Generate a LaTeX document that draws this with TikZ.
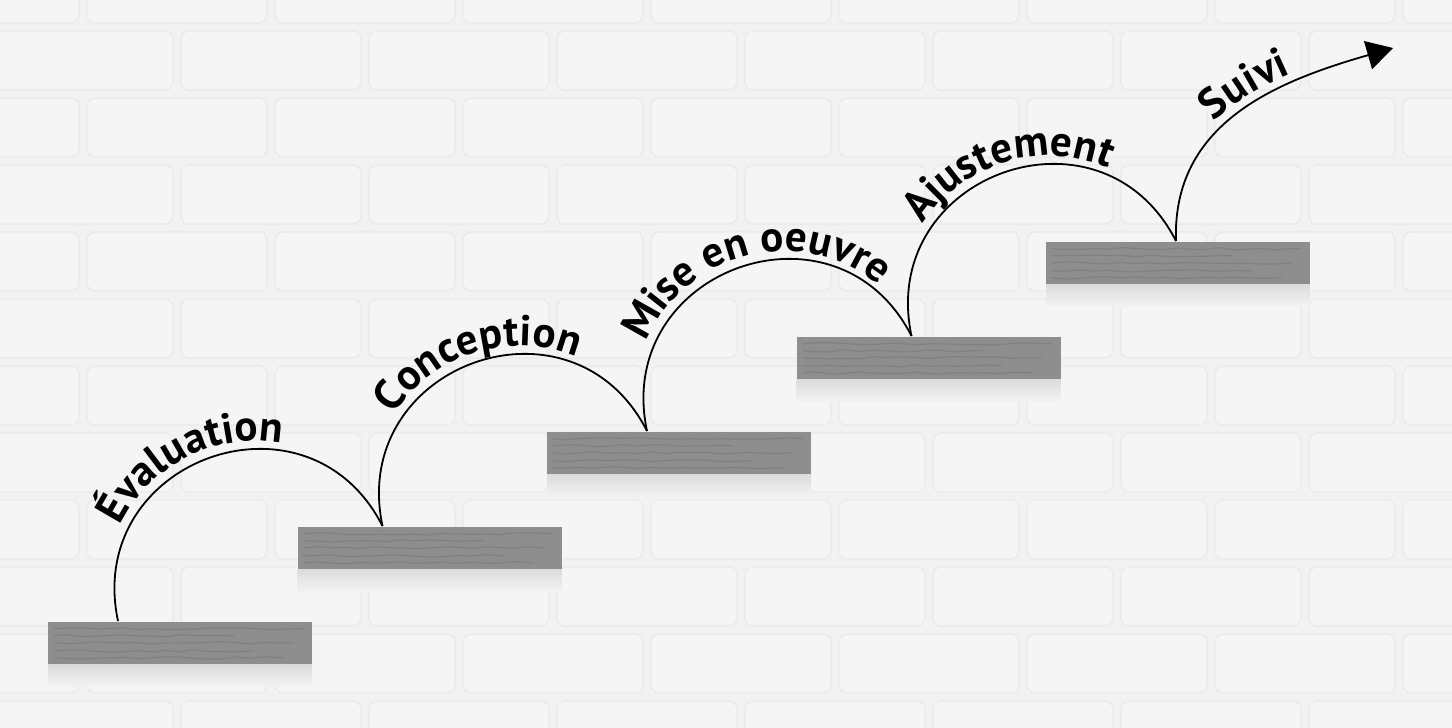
\documentclass[tikz,border=0pt]{standalone}
\usepackage{fontspec}
\setmainfont{PT Sans}
\usepackage{tikz}
\usetikzlibrary{arrows.meta, decorations.text, decorations.pathmorphing, calc}
\definecolor{muro}{HTML}{F2F2F2}
\definecolor{mattone}{HTML}{F5F5F5}
\definecolor{giunto}{HTML}{EAEAEA}
\definecolor{legno}{HTML}{8E8E8E}
\definecolor{venatura}{HTML}{777777}
\newcommand{\labelfont}{\bfseries\fontsize{43}{47}\selectfont}

\begin{document}
\begin{tikzpicture}[x = 1pt, y = 1pt,
    shelf/.style = {rectangle, fill = legno, minimum width = 264pt, minimum height = 42pt, inner sep = 0pt},
    grain/.style = {venatura, line width = 1.2pt, opacity = 0.55, decorate, decoration = {random steps, segment length = 14pt, amplitude = 1.2pt}},
    stepline/.style = {black, line width = 1.8pt},
    steplabel/.style = {decorate, decoration = {text along path, text = {|\labelfont|#1}, text align = left}}]
    % Parameters
    \pgfmathsetmacro{\brickw}{188}
    \pgfmathsetmacro{\brickh}{67}
    \pgfmathsetmacro{\rad}{150}
    \useasboundingbox (0,0) rectangle (1452,-728);
    % Wall
    \fill[muro] (0,0) rectangle (1452,-728);
    \begin{scope}
        \clip (0,0) rectangle (1452,-728);
        \foreach \r in {0,...,11}{
            \pgfmathsetmacro{\off}{-105+94*mod(\r,2)}
            \foreach \k in {0,...,8}{
                \filldraw[fill = mattone, draw = giunto, line width = 1.3pt, rounded corners = 8pt]
                    ({\off+\brickw*\k+4},{40-\brickh*\r-4}) rectangle ({\off+\brickw*(\k+1)-4},{40-\brickh*(\r+1)+4});
            }
        }
    \end{scope}
    % Shelves
    \foreach \i in {1,...,5}{
        \shade[top color = black!14, bottom color = muro]
            ({48+249.5*(\i-1)},{-664+95*(\i-1)}) rectangle ++(264,-22);
        \node[shelf] (s\i) at ({180+249.5*(\i-1)},{-643+95*(\i-1)}) {};
        \foreach \g/\l in {7/250, 14/180, 21/240, 29/200, 36/230}{
            \draw[grain] ($(s\i.north west)+(6,-\g)$) -- ++(\l,0);
        }
        \coordinate (p\i) at ({118+264.5*(\i-1)},{-621+95*(\i-1)});
    }
    \coordinate (fin) at (1393,-48);
    % Arcs
    \foreach \i/\j/\txt/\a in {1/2/Évaluation/154, 2/3/Conception/147, 3/4/Mise en oeuvre/157, 4/5/Ajustement/147}{
        \draw[stepline] (p\i) to[out = 102, in = 117, looseness = 1.5] (p\j);
        \path[steplabel = \txt] ($(p\i)+(137,30)+(\a:\rad)$) arc[start angle = \a, end angle = 0, radius = \rad];
    }
    % Last step
    \draw[stepline, -{Triangle[length = 26pt, width = 29pt]}] (p5) to[out = 92, in = 196, looseness = 1.05] (fin);
    \path[decorate, decoration = {text along path, text = {|\labelfont|Suivi}, text align = {left indent = 124pt}, raise = 9pt}]
        (p5) to[out = 92, in = 196, looseness = 1.05] (fin);
\end{tikzpicture}
\end{document}
